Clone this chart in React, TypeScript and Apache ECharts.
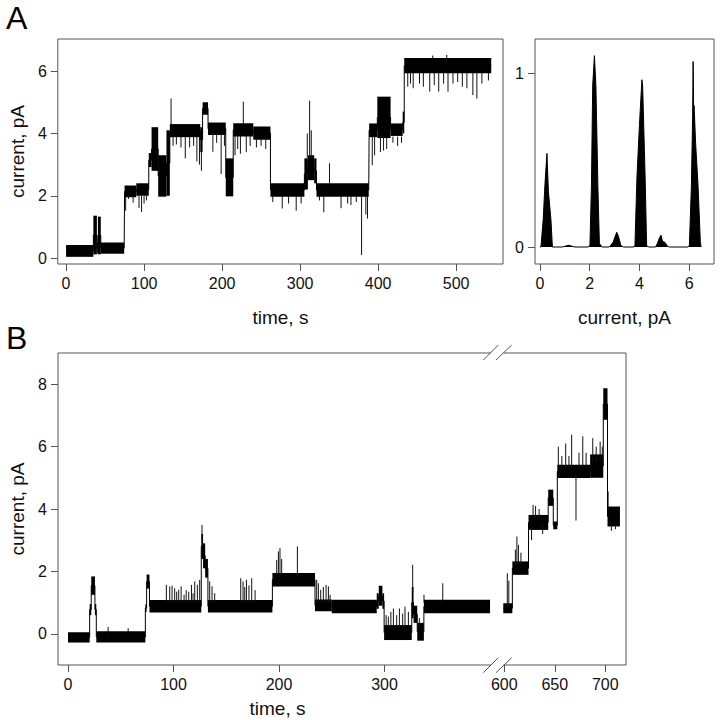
import React, { useEffect, useRef } from "react";
import * as echarts from "echarts";

// ---------- tick values ----------
const aTicksX = [0, 100, 200, 300, 400, 500];
const aTicksY = [0, 2, 4, 6];
const hTicksX = [0, 2, 4, 6];
const hTicksY = [0, 1];
const b1TicksX = [0, 100, 200, 300];
const b2TicksX = [600, 650, 700];
const bTicksY = [0, 2, 4, 6, 8];

// ---------- panel A trace: [tStart, tEnd, low, high] (s, pA) ----------
const aSegments: number[][] = [
  [0, 35, 0.04, 0.42],
  [35, 39.5, 0.12, 1.36],
  [39.5, 40.8, 0.15, 0.5],
  [40.8, 44.5, 0.12, 1.33],
  [44.5, 74.5, 0.14, 0.5],
  [75, 90, 1.95, 2.33],
  [90, 106, 2.0, 2.4],
  [106, 109.6, 2.92, 3.37],
  [109.6, 118.1, 2.8, 4.2],
  [118.1, 128.7, 1.97, 3.3],
  [128.7, 133, 2.0, 4.1],
  [133, 172, 3.88, 4.3],
  [172, 175, 3.4, 4.2],
  [175, 182, 4.6, 5.0],
  [182, 204.7, 3.95, 4.35],
  [204.7, 214.3, 1.98, 3.2],
  [214.3, 240, 3.9, 4.33],
  [240, 262, 3.8, 4.22],
  [262, 305.5, 1.97, 2.4],
  [305.5, 310, 2.2, 3.2],
  [310, 318, 2.5, 3.3],
  [318, 321, 2.4, 3.2],
  [321, 388, 1.97, 2.4],
  [388.5, 399, 3.88, 4.32],
  [399, 416, 3.85, 5.18],
  [416, 431.5, 3.92, 4.32],
  [431.5, 433.5, 4.0, 4.7],
  [433.5, 545, 5.93, 6.42],
];
// brief excursions: [t, from, to]
const aSpikes: number[][] = [
  [76.4, 2.0, 1.52], [80, 2.0, 1.9], [86, 2.0, 1.78], [93.5, 2.0, 1.61], [96.8, 2.0, 1.48], [100, 2.0, 1.75], [103, 2.0, 1.85],
  [134.6, 4.2, 5.12], [137.2, 3.9, 3.6], [141.4, 3.9, 3.65], [147.3, 3.9, 3.55], [152.8, 3.9, 3.2], [158.4, 3.9, 3.55],
  [163.5, 3.9, 3.6], [167.7, 3.9, 3.1], [171, 3.9, 3.0], [173.5, 3.5, 2.8],
  [188.2, 4.0, 3.41], [193, 4.0, 3.7], [198.8, 4.0, 2.7], [203, 4.0, 3.6],
  [216.6, 3.95, 3.3], [220, 3.95, 3.5], [223.5, 3.95, 3.35], [227.2, 4.3, 5.02], [231, 3.95, 3.4], [236, 3.95, 3.6],
  [244, 3.85, 3.55], [250, 3.85, 3.6], [256, 3.85, 3.5],
  [265, 2.0, 1.8], [277.1, 2.0, 1.59], [285.2, 2.0, 1.75], [295, 2.0, 1.52], [301.3, 2.0, 1.75],
  [309.2, 3.2, 4.0], [312.2, 3.2, 5.05], [314.3, 3.2, 4.1],
  [324.8, 2.0, 1.85], [330.4, 2.0, 1.47], [337.7, 2.4, 3.04], [352.5, 2.0, 1.6], [361, 2.0, 1.75], [365.2, 2.0, 1.7],
  [372, 2.0, 1.8], [378.8, 2.0, 0.1], [384.3, 2.0, 1.4], [386.4, 2.0, 1.27],
  [392.5, 3.9, 2.98], [395.5, 3.9, 3.3], [403, 3.9, 3.4], [407, 3.9, 3.45], [411, 3.9, 3.5], [419, 3.9, 3.7], [425, 3.9, 3.6], [430, 3.9, 3.7],
  [438, 5.95, 5.5], [441.5, 5.95, 5.6], [445, 5.95, 5.45], [453.1, 5.95, 5.6], [458, 5.95, 5.5], [466.2, 5.95, 5.34],
  [472, 5.95, 5.55], [477.7, 5.95, 5.34], [484, 5.95, 5.6], [489.6, 5.95, 5.34], [496, 5.95, 5.6], [502, 5.95, 5.65],
  [508, 5.95, 5.5], [513.8, 5.95, 5.45], [521.5, 5.95, 5.23], [526.6, 5.95, 5.12], [533, 5.95, 5.6], [541.4, 5.95, 5.7],
  [470, 6.4, 6.5], [488, 6.4, 6.52],
];

// ---------- panel A histogram: [current pA, density] ----------
const histogram: number[][] = [
  [0, 0], [0.04, 0], [0.13, 0.16], [0.2, 0.36], [0.28, 0.54], [0.34, 0.32], [0.44, 0.16], [0.5, 0],
  [0.9, 0], [1.05, 0.006], [1.15, 0.01], [1.25, 0.006], [1.4, 0],
  [1.95, 0], [2.01, 0.01], [2.07, 0.35], [2.12, 0.93], [2.19, 1.104], [2.25, 0.93], [2.33, 0.35], [2.39, 0.02], [2.5, 0],
  [2.78, 0], [2.85, 0.01], [2.95, 0.03], [3.02, 0.06], [3.09, 0.085], [3.16, 0.06], [3.25, 0.01], [3.35, 0],
  [3.78, 0], [3.82, 0.01], [3.9, 0.4], [4.0, 0.7], [4.1, 0.965], [4.13, 0.93], [4.23, 0.4], [4.29, 0.01], [4.36, 0],
  [4.65, 0], [4.72, 0.02], [4.8, 0.05], [4.87, 0.068], [4.93, 0.03], [5.0, 0.03], [5.06, 0.02], [5.12, 0.005], [5.2, 0],
  [5.95, 0], [6.01, 0.01], [6.09, 0.35], [6.14, 0.75], [6.16, 1.07], [6.18, 0.8], [6.2, 0.815], [6.26, 0.6],
  [6.36, 0.35], [6.45, 0.03], [6.48, 0], [6.5, 0],
];

// ---------- panel B trace, first part (0–400 s) ----------
const b1Segments: number[][] = [
  [0, 20.5, -0.28, 0.05],
  [20.5, 22, 0.6, 0.95],
  [22, 25.5, 1.25, 1.84],
  [25.5, 26.8, 0.6, 0.95],
  [26.8, 73.3, -0.28, 0.08],
  [73.3, 74.5, 0.7, 0.95],
  [74.5, 77.2, 1.45, 1.9],
  [77.2, 126.3, 0.68, 1.08],
  [126.3, 128, 2.4, 3.2],
  [128, 130, 2.1, 2.9],
  [130, 132.6, 1.8, 2.4],
  [132.6, 193.7, 0.68, 1.08],
  [193.7, 234.1, 1.52, 1.95],
  [234.1, 250, 0.72, 1.1],
  [250, 292.6, 0.66, 1.09],
  [292.6, 294.5, 0.8, 1.3],
  [294.5, 298, 0.9, 1.54],
  [298, 299.6, 0.8, 1.3],
  [299.6, 325.8, -0.2, 0.28],
  [325.8, 327.5, 0.5, 1.5],
  [327.5, 331, 0.35, 0.9],
  [331, 337.3, -0.22, 0.35],
  [337.3, 400, 0.66, 1.09],
];
const b1Spikes: number[][] = [
  [38, 0, 0.22], [57, 0, 0.18],
  [93.2, 1.0, 1.57], [96.4, 1.0, 1.52], [98.6, 1.0, 1.54], [101.1, 1.0, 1.46], [103, 1.0, 1.35], [104.9, 1.0, 1.41],
  [107.2, 1.0, 1.52], [110, 1.0, 1.25], [112, 1.0, 1.4], [114.4, 1.0, 1.35], [117, 1.0, 1.57], [118.5, 1.0, 1.3],
  [120.1, 1.0, 1.68], [122.6, 1.0, 1.57], [124.8, 1.0, 1.73],
  [127, 3.0, 3.49],
  [134.3, 1.0, 1.68], [136.5, 1.0, 1.52], [139, 1.0, 1.3],
  [163.7, 1.0, 1.78], [165.9, 1.0, 1.68], [167.5, 1.0, 1.5], [169.1, 1.0, 1.73], [171.5, 1.0, 1.55], [174.1, 1.0, 1.78], [177.3, 1.0, 1.4],
  [197.8, 1.9, 2.37], [199.4, 1.9, 2.64], [200.9, 1.9, 2.75], [202.5, 1.9, 2.4], [217.4, 1.9, 2.8],
  [235.7, 1.0, 1.73], [237.3, 1.0, 1.62], [239.5, 1.0, 1.41], [242, 1.0, 1.5], [244.6, 1.0, 1.57], [246.8, 1.0, 1.52], [248.4, 1.0, 1.25],
  [301.5, 0.2, 0.6], [303.6, 0.2, 0.55], [306, 0.2, 0.7], [308.4, 0.2, 0.81], [311.5, 0.2, 0.6], [314.1, 0.2, 0.81],
  [317.2, 0.2, 0.65], [319.4, 0.2, 0.87], [322.6, 0.2, 0.7],
  [326.7, 1.3, 2.21],
  [333, 0.2, 0.5], [337.4, 1.0, 1.25], [355.2, 1.0, 1.62],
];

// ---------- panel B trace, second part (600–715 s) ----------
const b2Segments: number[][] = [
  [599, 608, 0.66, 0.98],
  [608, 624, 1.89, 2.32],
  [624, 643.5, 3.33, 3.81],
  [643.5, 648.5, 4.1, 4.62],
  [648.5, 652.5, 3.35, 3.6],
  [652.5, 685, 4.99, 5.42],
  [685, 698, 5.0, 5.75],
  [698, 702.2, 6.86, 7.87],
  [702.2, 714.5, 3.44, 4.08],
];
const b2Spikes: number[][] = [
  [603, 0.9, 1.94], [604.5, 0.9, 1.7], [611, 2.2, 2.7], [612.5, 2.2, 3.12], [614, 2.2, 2.85], [616.5, 2.2, 2.6],
  [627, 3.4, 3.0], [628.5, 3.7, 4.13], [631, 3.7, 4.1], [634.5, 3.7, 4.0], [638, 3.5, 3.2],
  [653.5, 5.3, 6.0], [657, 5.3, 5.7], [660.8, 5.3, 6.1], [664, 5.3, 5.7], [666.7, 5.3, 6.38], [671, 5.1, 3.63],
  [674, 5.3, 5.8], [677.7, 5.3, 6.33], [681, 5.3, 5.8], [687.6, 5.5, 6.27], [691, 5.5, 6.0], [694.9, 5.5, 6.16],
  [697, 5.5, 6.0], [702.8, 4.0, 4.56], [706, 3.5, 3.3], [710, 3.5, 3.35],
];

const FONT = "'Liberation Sans', Arial, sans-serif";
const LINE = "#555";
const TEXT = "#111";

function bandItem(_p: any, api: any) {
  const a = api.coord([api.value(0), api.value(3)]);
  const b = api.coord([api.value(1), api.value(2)]);
  return {
    type: "rect",
    shape: { x: a[0], y: a[1], width: Math.max(b[0] - a[0], 1), height: b[1] - a[1] },
    style: { fill: "#000" },
  };
}
function spikeItem(_p: any, api: any) {
  const a = api.coord([api.value(0), api.value(1)]);
  const b = api.coord([api.value(0), api.value(2)]);
  return {
    type: "line",
    shape: { x1: a[0], y1: a[1], x2: b[0], y2: b[1] },
    style: { stroke: "#111", lineWidth: 1 },
  };
}
function traceSeries(segs: number[][], spikes: number[][], ax: number) {
  const joins: number[][] = [];
  segs.forEach((s) => {
    const m = (s[2] + s[3]) / 2;
    joins.push([s[0], m], [s[1], m]);
  });
  return [
    {
      type: "line", xAxisIndex: ax, yAxisIndex: ax, data: joins, symbol: "none",
      lineStyle: { color: "#000", width: 1 }, silent: true,
    },
    {
      type: "custom", xAxisIndex: ax, yAxisIndex: ax, data: segs, renderItem: bandItem,
      encode: { x: [0, 1], y: [2, 3] }, clip: true, silent: true,
    },
    {
      type: "custom", xAxisIndex: ax, yAxisIndex: ax, data: spikes, renderItem: spikeItem,
      encode: { x: 0, y: [1, 2] }, clip: true, silent: true,
    },
  ];
}

function xAxis(gridIndex: number, min: number, max: number, ticks: number[], name: string, nameGap: number) {
  return {
    type: "value", gridIndex, min, max, position: "bottom",
    axisLine: { show: false, onZero: false },
    splitLine: { show: false },
    axisTick: { show: true, length: 7, customValues: ticks, lineStyle: { color: LINE } },
    axisLabel: { customValues: ticks, margin: 11, fontSize: 16, color: TEXT, fontFamily: FONT },
    name, nameLocation: "middle", nameGap,
    nameTextStyle: { fontSize: 19, color: TEXT, fontFamily: FONT },
  };
}
function yAxis(gridIndex: number, min: number, max: number, ticks: number[], name: string, nameGap: number, show = true) {
  return {
    type: "value", gridIndex, min, max, show, position: "left",
    axisLine: { show: false, onZero: false },
    splitLine: { show: false },
    axisTick: { show: true, length: 7, customValues: ticks, lineStyle: { color: LINE } },
    axisLabel: { customValues: ticks, margin: 11, fontSize: 16, color: TEXT, fontFamily: FONT },
    name, nameLocation: "middle", nameGap,
    nameTextStyle: { fontSize: 19, color: TEXT, fontFamily: FONT },
  };
}

function seg(x1: number, y1: number, x2: number, y2: number) {
  return { type: "line", shape: { x1, y1, x2, y2 }, style: { stroke: LINE, lineWidth: 1 }, silent: true };
}

export default function App() {
  const ref = useRef<HTMLDivElement>(null);
  useEffect(() => {
    if (!ref.current) return;
    const chart = echarts.init(ref.current, undefined, { renderer: "svg" });
    chart.setOption({
      animation: false,
      backgroundColor: "#fff",
      grid: [
        { left: 55, top: 39, width: 448, height: 225, show: true, borderColor: LINE, borderWidth: 1, backgroundColor: "transparent" },
        { left: 535, top: 39, width: 179, height: 225, show: true, borderColor: LINE, borderWidth: 1, backgroundColor: "transparent" },
        { left: 58, top: 353, width: 439, height: 312, show: false },
        { left: 497, top: 353, width: 129, height: 312, show: false },
      ],
      xAxis: [
        xAxis(0, -10.6, 560.1, aTicksX, "time, s", 44),
        xAxis(1, -0.2, 7.0, hTicksX, "current, pA", 44),
        xAxis(2, -9.5, 406.6, b1TicksX, "time, s", 34),
        xAxis(3, 592.8, 720.5, b2TicksX, "", 34),
      ],
      yAxis: [
        yAxis(0, -0.19, 7.03, aTicksY, "current, pA", 28),
        yAxis(1, -0.098, 1.2, hTicksY, "", 28),
        yAxis(2, -1, 9, bTicksY, "current, pA", 31),
        yAxis(3, -1, 9, [], "", 0, false),
      ],
      series: [
        ...traceSeries(aSegments, aSpikes, 0),
        {
          type: "line", xAxisIndex: 1, yAxisIndex: 1, data: histogram, symbol: "none",
          lineStyle: { color: "#000", width: 1 }, areaStyle: { color: "#000", opacity: 1 }, silent: true,
        },
        ...traceSeries(b1Segments, b1Spikes, 2),
        ...traceSeries(b2Segments, b2Spikes, 3),
      ],
      graphic: [
        { type: "text", left: 6, top: 2, style: { text: "A", fontSize: 32, fill: "#000", fontFamily: FONT } },
        { type: "text", left: 6, top: 322, style: { text: "B", fontSize: 32, fill: "#000", fontFamily: FONT } },
        seg(58, 353, 58, 665),
        seg(626, 353, 626, 665),
        seg(58, 353, 490.8, 353),
        seg(503.5, 353, 626, 353),
        seg(58, 665, 490.8, 665),
        seg(503.5, 665, 626, 665),
        seg(483.3, 360, 498.3, 345),
        seg(496, 360, 511.7, 345),
        seg(483.3, 672.7, 498.3, 657.7),
        seg(496, 672.7, 511.7, 657.7),
      ],
    });
    return () => chart.dispose();
  }, []);
  return <div ref={ref} style={{ position: "fixed", left: 0, top: 0, width: 720, height: 720 }} />;
}
